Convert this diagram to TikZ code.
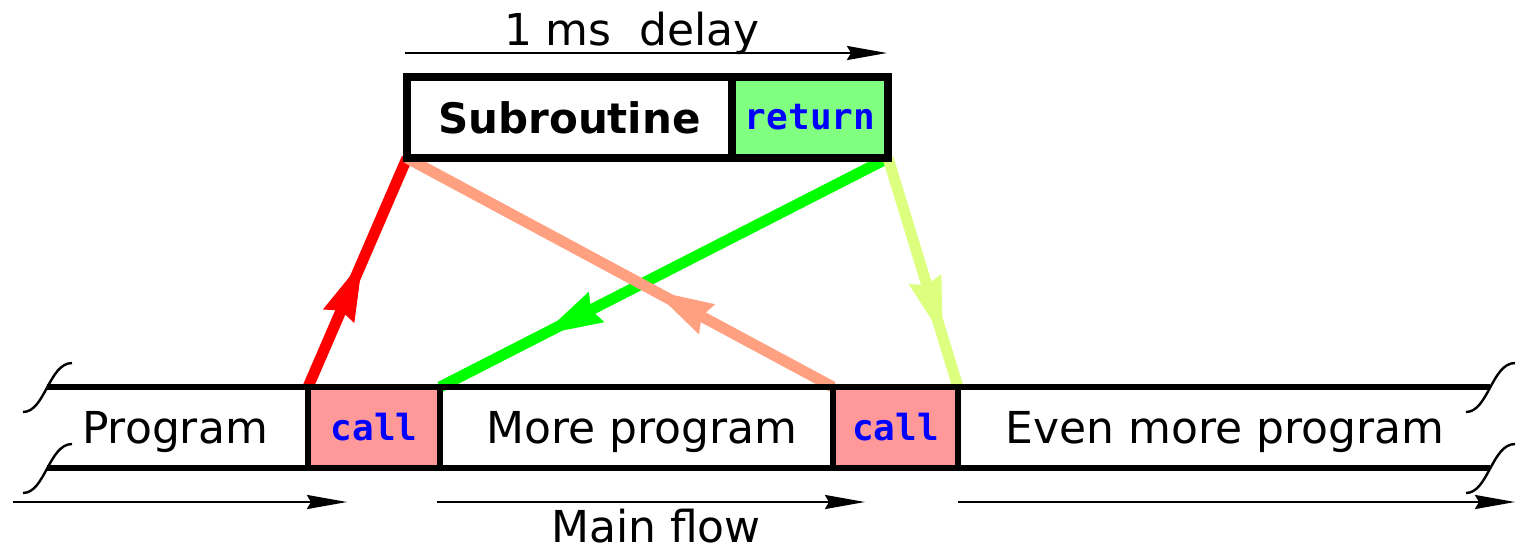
\documentclass[tikz,border=0pt]{standalone}
\usepackage{fontspec}
\setmainfont{DejaVu Sans}
\setmonofont{DejaVu Sans Mono}
\usetikzlibrary{arrows.meta,decorations.markings,backgrounds}
\definecolor{callfill}{RGB}{255,153,153}
\definecolor{retfill}{RGB}{128,255,128}
\definecolor{callline}{RGB}{255,0,0}
\definecolor{backline}{RGB}{255,160,128}
\definecolor{retline}{RGB}{0,255,0}
\definecolor{contline}{RGB}{221,255,128}

\begin{document}
\begin{tikzpicture}[x=0.5pt,y=-0.5pt,
  lbl/.style={inner sep=0pt, anchor=base, font=\fontsize{22}{26}\selectfont},
  kw/.style={text=blue, font=\ttfamily\bfseries\fontsize{18}{22}\selectfont},
  cellbox/.style={draw=black, line width=3pt, minimum height=40.5pt, inner sep=0pt, outer sep=0pt, fill=callfill, kw},
  subbox/.style={draw=black, line width=4pt, minimum height=40.5pt, inner sep=0pt, outer sep=0pt},
  band/.style={line width=3pt},
  brk/.style={line width=1.2pt},
  flow/.style={line width=1.2pt, -{Stealth[length=20pt,width=7pt,inset=2pt]}},
  jump/.style={line width=5.5pt, postaction={decorate},
    decoration={markings, mark=at position #1 with {\arrow{Stealth[length=30pt,width=17pt,inset=3pt,line width=0.5pt]}}}},
]
\useasboundingbox (0,0) rectangle (1521,554);

% main program band
\draw[band] (47,387) -- (1490,387);
\draw[band] (47,468) -- (1490,468);

% break marks at both ends of the band
\draw[brk] (23,412) .. controls (45,412) and (49,363) .. (72,363);
\draw[brk] (23,493) .. controls (45,493) and (49,444) .. (72,444);
\draw[brk] (1466,412) .. controls (1488,412) and (1492,363) .. (1515,363);
\draw[brk] (1466,493) .. controls (1488,493) and (1492,444) .. (1515,444);

% call cells
\node[cellbox, minimum width=66pt] (call1) at (374,427.5) {call};
\node[cellbox, minimum width=62.5pt] (call2) at (895.5,427.5) {call};

% program text
\node[lbl] (prog) at (175,443) {Program};
\node[lbl] (more) at (642,443) {More program};
\node[lbl] (even) at (1225,443) {Even more program};

% subroutine box
\node[subbox, minimum width=162.5pt, font=\bfseries\fontsize{21}{25}\selectfont] (sub) at (569.5,117.5) {Subroutine};
\node[subbox, fill=retfill, minimum width=78pt, kw] (ret) at (810,117.5) {return};

% jumps between main flow and subroutine
\begin{scope}[on background layer]
  \draw[callline, jump=0.55] (call1.north west) -- (sub.south west);
  \draw[retline, jump=0.77] (ret.south east) -- (call1.north east);
  \draw[backline, jump=0.42] (call2.north west) -- (sub.south west);
  \draw[contline, jump=0.78] (ret.south east) -- (call2.north east);
\end{scope}

% delay arrow
\coordinate (d1) at (405,53);
\coordinate (d2) at (887,53);
\draw[flow] (d1) -- (d2);
\node[lbl] (delay) at (632,45) {1 ms\ \ delay};

% main flow arrows
\coordinate (f1a) at (13,502);
\coordinate (f1b) at (347,502);
\coordinate (f2a) at (437,502);
\coordinate (f2b) at (865,502);
\coordinate (f3a) at (958,502);
\coordinate (f3b) at (1515,502);
\draw[flow] (f1a) -- (f1b);
\draw[flow] (f2a) -- (f2b);
\draw[flow] (f3a) -- (f3b);
\node[lbl] (mainflow) at (656,542) {Main flow};
\end{tikzpicture}
\end{document}
